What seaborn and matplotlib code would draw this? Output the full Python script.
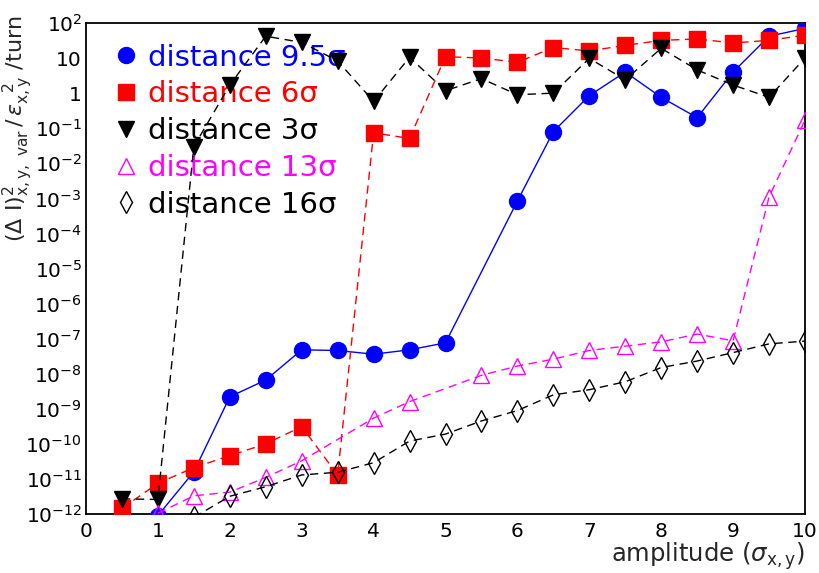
import numpy as np
import pandas as pd
import matplotlib
matplotlib.use("Agg")
import matplotlib.pyplot as plt
import seaborn as sns
from matplotlib.lines import Line2D
from matplotlib.ticker import FixedLocator, FixedFormatter, LogLocator, MultipleLocator, NullFormatter

# ---------------- data ----------------
x_95 = [1.0, 1.5, 2.0, 2.5, 3.0, 3.5, 4.0, 4.5, 5.0, 6.0, 6.5, 7.0, 7.5, 8.0, 8.5, 9.0, 9.5, 10.0]
y_95 = [9e-13, 1.6e-11, 2.2e-9, 6.6e-9, 4.8e-8, 4.6e-8, 3.6e-8, 4.8e-8, 7.6e-8,
        8.4e-4, 0.08, 0.85, 4.0, 0.76, 0.2, 4.0, 42, 70]

x_6 = [0.5, 1.0, 1.5, 2.0, 2.5, 3.0, 3.5, 4.0, 4.5, 5.0, 5.5, 6.0, 6.5, 7.0, 7.5, 8.0, 8.5, 9.0, 9.5, 10.0]
y_6 = [1.45e-12, 7.5e-12, 2.1e-11, 4.6e-11, 1e-10, 3.1e-10, 1.3e-11, 0.074, 0.051,
       11, 10, 7.6, 20, 16, 23, 32, 35, 27, 32, 45]

x_3 = [0.5, 1.0, 1.5, 2.0, 2.5, 3.0, 3.5, 4.0, 4.5, 5.0, 5.5, 6.0, 6.5, 7.0, 7.5, 8.0, 8.5, 9.0, 9.5, 10.0]
y_3 = [2.7e-12, 2.6e-12, 0.03, 1.7, 42, 28, 8.3, 0.58, 10.5, 1.17, 2.6, 0.9, 1.0,
       9.8, 2.4, 19, 4.6, 1.7, 0.76, 10]

x_13 = [1.0, 1.5, 2.0, 2.5, 3.0, 4.0, 4.5, 5.5, 6.0, 6.5, 7.0, 7.5, 8.0, 8.5, 9.0, 9.5, 10.0]
y_13 = [1.05e-12, 3.3e-12, 4.2e-12, 1.1e-11, 3.3e-11, 5.4e-10, 1.6e-9, 9e-9, 1.65e-8,
        2.6e-8, 4.6e-8, 6.1e-8, 8.1e-8, 1.35e-7, 8.7e-8, 1.1e-3, 0.17]

x_16 = [1.5, 2.0, 2.5, 3.0, 3.5, 4.0, 4.5, 5.0, 5.5, 6.0, 6.5, 7.0, 7.5, 8.0, 8.5, 9.0, 9.5, 10.0]
y_16 = [8e-13, 3.2e-12, 6e-12, 1.3e-11, 1.55e-11, 2.9e-11, 1.2e-10, 1.9e-10, 4.5e-10,
        8.9e-10, 2.5e-9, 3.5e-9, 5.9e-9, 1.5e-8, 2.3e-8, 4e-8, 7.1e-8, 8.5e-8]

labels = ["distance 9.5σ", "distance 6σ", "distance 3σ", "distance 13σ", "distance 16σ"]
colors = ["#0000ff", "#ff0000", "#000000", "#ff00ff", "#000000"]

x_ticks = [0, 1, 2, 3, 4, 5, 6, 7, 8, 9, 10]
y_exps = list(range(-12, 3))

# ---------------- style ----------------
sns.set_theme(style="white")
plt.rcParams["font.family"] = ["DejaVu Sans"]
plt.rcParams["mathtext.fontset"] = "dejavusans"

fig = plt.figure(figsize=(8.19, 5.73), dpi=100)
ax = fig.add_axes([86 / 819, 1 - 514 / 573, 719 / 819, 491 / 573])

series = [
    (x_95, y_95, dict(marker="o", ls="-", ms=11.5, mfc=colors[0], mec=colors[0])),
    (x_6, y_6, dict(marker="s", ls=(0, (6, 4)), ms=11.5, mfc=colors[1], mec=colors[1])),
    (x_3, y_3, dict(marker="v", ls=(0, (6, 4)), ms=12, mfc=colors[2], mec=colors[2])),
    (x_13, y_13, dict(marker="^", ls=(0, (6, 4)), ms=12, mfc="none", mec=colors[3])),
    (x_16, y_16, dict(marker="d", ls=(0, (6, 4)), ms=11, mfc="none", mec=colors[4])),
]
for (xs, ys, kw), c in zip(series, colors):
    df = pd.DataFrame({"x": xs, "y": ys})
    sns.lineplot(data=df, x="x", y="y", ax=ax, color=c, lw=1.0,
                 linestyle=kw["ls"], marker=kw["marker"], markersize=kw["ms"],
                 markerfacecolor=kw["mfc"], markeredgecolor=kw["mec"],
                 markeredgewidth=1.0, estimator=None, sort=True, zorder=3)

ax.set_yscale("log")
ax.set_xlim(0, 10)
ax.set_ylim(1e-12, 1e2)

ax.xaxis.set_major_locator(FixedLocator(x_ticks))
ax.xaxis.set_major_formatter(FixedFormatter([str(t) for t in x_ticks]))
ax.xaxis.set_minor_locator(MultipleLocator(0.2))

ylabels = []
for e in y_exps:
    if e == 0:
        ylabels.append("1")
    elif e == 1:
        ylabels.append("10")
    else:
        ylabels.append(r"$10^{%d}$" % e)
ax.yaxis.set_major_locator(FixedLocator([10.0 ** e for e in y_exps]))
ax.yaxis.set_major_formatter(FixedFormatter(ylabels))
ax.yaxis.set_minor_locator(LogLocator(base=10, subs=np.arange(2, 10), numticks=100))
ax.yaxis.set_minor_formatter(NullFormatter())

ax.tick_params(axis="both", which="both", direction="in", top=False, right=False,
               colors="black", labelsize=14.5)
ax.tick_params(axis="both", which="major", length=9, width=1.0)
ax.tick_params(axis="both", which="minor", length=4.5, width=0.8)
ax.tick_params(axis="x", pad=6)
ax.tick_params(axis="y", pad=3)

for s in ax.spines.values():
    s.set_color("black")
    s.set_linewidth(1.3)

ax.set_xlabel(r"amplitude ($\sigma_{\rm x,y}$)", fontsize=17.5, ha="right", va="top")
ax.set_ylabel(r"$(\Delta\ {\rm I})^{2}_{\rm x,y,\ var}\,/\,\epsilon_{\rm x,y}^{\ \ 2}\ /{\rm turn}$",
              fontsize=16, ha="right", va="center")
ax.xaxis.set_label_coords(1.0, -0.054)
ax.yaxis.set_label_coords(-0.095, 1.015)

handles = []
for (xs, ys, kw), c in zip(series, colors):
    handles.append(Line2D([], [], ls="none", marker=kw["marker"], markersize=kw["ms"],
                          markerfacecolor=kw["mfc"], markeredgecolor=kw["mec"],
                          markeredgewidth=1.0))
leg = ax.legend(handles, labels, loc="upper left", bbox_to_anchor=(0.035, 0.958),
                frameon=False, fontsize=21, labelcolor=colors, handlelength=1.0,
                handletextpad=0.25, labelspacing=0.3, borderpad=0, borderaxespad=0)
leg.set_zorder(1)

fig.savefig("out.png", dpi=100, facecolor="white")
